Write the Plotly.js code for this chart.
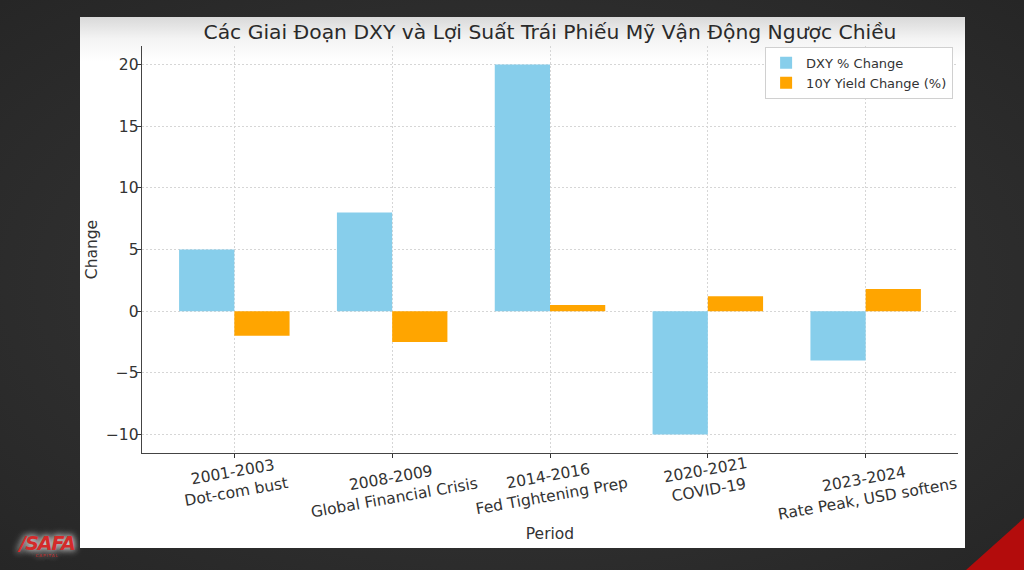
<!DOCTYPE html>
<html>
<head>
<meta charset="utf-8">
<script src="https://cdn.plot.ly/plotly-3.0.1.min.js"></script>
<style>
  html, body { margin: 0; padding: 0; }
  body {
    width: 1024px; height: 570px; overflow: hidden; position: relative;
    background: radial-gradient(ellipse at center, #3a3a3a 0%, #2c2c2c 70%, #262626 100%);
  }
  #panel {
    position: absolute; left: 80px; top: 17px; width: 885px; height: 531px;
    background: linear-gradient(to bottom, #d9d9d9 0px, #f4f4f4 22px, #ffffff 45px);
  }
  #chart { position: absolute; left: 0; top: 0; width: 1024px; height: 570px; }
  #corner {
    position: absolute; right: 0; bottom: 0; width: 0; height: 0;
    border-style: solid; border-width: 0 0 52px 58px;
    border-color: transparent transparent #b30c0c transparent;
  }
  #logo {
    position: absolute; left: 14px; top: 533px; width: 66px;
    font-family: "DejaVu Sans", sans-serif; color: #d42a2a; text-align: center;
    text-shadow: 0 0 6px rgba(255,255,255,.9), 0 0 10px rgba(255,255,255,.6);
  }
  #logo .big { font-size: 19px; font-weight: bold; font-style: italic; line-height: 20px; letter-spacing: -1px; }
  #logo .small { font-size: 4px; letter-spacing: 1px; line-height: 5px; }
</style>
</head>
<body>
<div id="panel"></div>
<div id="chart"></div>
<div id="corner"></div>
<div id="logo"><div class="big">/SAFA</div><div class="small">CAPITAL</div></div>
<script>
// periods (two line labels) and values
const periods = ["2001-2003", "2008-2009", "2014-2016", "2020-2021", "2023-2024"];
const periodNames = ["Dot-com bust", "Global Financial Crisis", "Fed Tightening Prep", "COVID-19", "Rate Peak, USD softens"];

const dxyChange = [5, 8, 20, -10, -4];
const yieldChange = [-2, -2.5, 0.5, 1.2, 1.8];

const font = "DejaVu Sans, sans-serif";
const textColor = "#333333";

const traces = [
    {
        type: "bar",
        x: periods,
        y: dxyChange,
        name: "DXY % Change",
        marker: { color: "#87CEEB" }
    },
    {
        type: "bar",
        x: periods,
        y: yieldChange,
        name: "10Y Yield Change (%)",
        marker: { color: "#FFA500" }
    }
];

// rotated, centred tick labels like the source
const labelNotes = periods.map((p, i) => ({
    x: p,
    xref: "x",
    y: 0,
    yref: "paper",
    yanchor: "top",
    yshift: 1,
    text: p + "<br>" + periodNames[i],
    textangle: -10,
    showarrow: false,
    align: "center",
    font: { family: font, size: 15.5, color: textColor }
}));

const layout = {
    width: 1024,
    height: 570,
    paper_bgcolor: "rgba(0,0,0,0)",
    plot_bgcolor: "rgba(0,0,0,0)",
    margin: { l: 142, r: 66, t: 46, b: 117 },
    font: { family: font, color: textColor },
    title: {
        text: "Các Giai Đoạn DXY và Lợi Suất Trái Phiếu Mỹ Vận Động Ngược Chiều",
        font: { family: font, size: 20.3, color: "#2a2a2a" },
        x: 0.5, xref: "paper",
        y: 1 - 32 / 570, yref: "container", yanchor: "middle"
    },
    barmode: "group",
    bargap: 0.3,
    bargroupgap: 0,
    showlegend: true,
    legend: {
        x: 0.994, xanchor: "right",
        y: 0.998, yanchor: "top",
        bgcolor: "#ffffff",
        bordercolor: "#d0d0d0",
        borderwidth: 1,
        font: { family: font, size: 13, color: textColor },
        traceorder: "normal"
    },
    xaxis: {
        type: "category",
        range: [-0.585, 4.585],
        showticklabels: false,
        ticks: "outside",
        ticklen: 4,
        tickcolor: textColor,
        showline: true,
        linecolor: "#444444",
        linewidth: 1.3,
        showgrid: true,
        gridcolor: "#d6d6d6",
        griddash: "2px,2px",
        zeroline: false,
        title: {
            text: "Period",
            font: { family: font, size: 15.5, color: textColor },
            standoff: 70
        }
    },
    yaxis: {
        range: [-11.5, 21.5],
        tickvals: [-10, -5, 0, 5, 10, 15, 20],
        ticktext: ["\u221210", "\u22125", "0", "5", "10", "15", "20"],
        ticks: "outside",
        ticklen: 4,
        tickcolor: textColor,
        tickfont: { family: font, size: 15.5, color: textColor },
        ticklabelstandoff: -5,
        showline: true,
        linecolor: "#444444",
        linewidth: 1.3,
        showgrid: true,
        gridcolor: "#d6d6d6",
        griddash: "2px,2px",
        zeroline: false,
        title: {
            text: "Change",
            font: { family: font, size: 15.5, color: textColor },
            standoff: 4
        }
    },
    annotations: labelNotes
};

Plotly.newPlot("chart", traces, layout, { displayModeBar: false, staticPlot: true });
</script>
</body>
</html>
